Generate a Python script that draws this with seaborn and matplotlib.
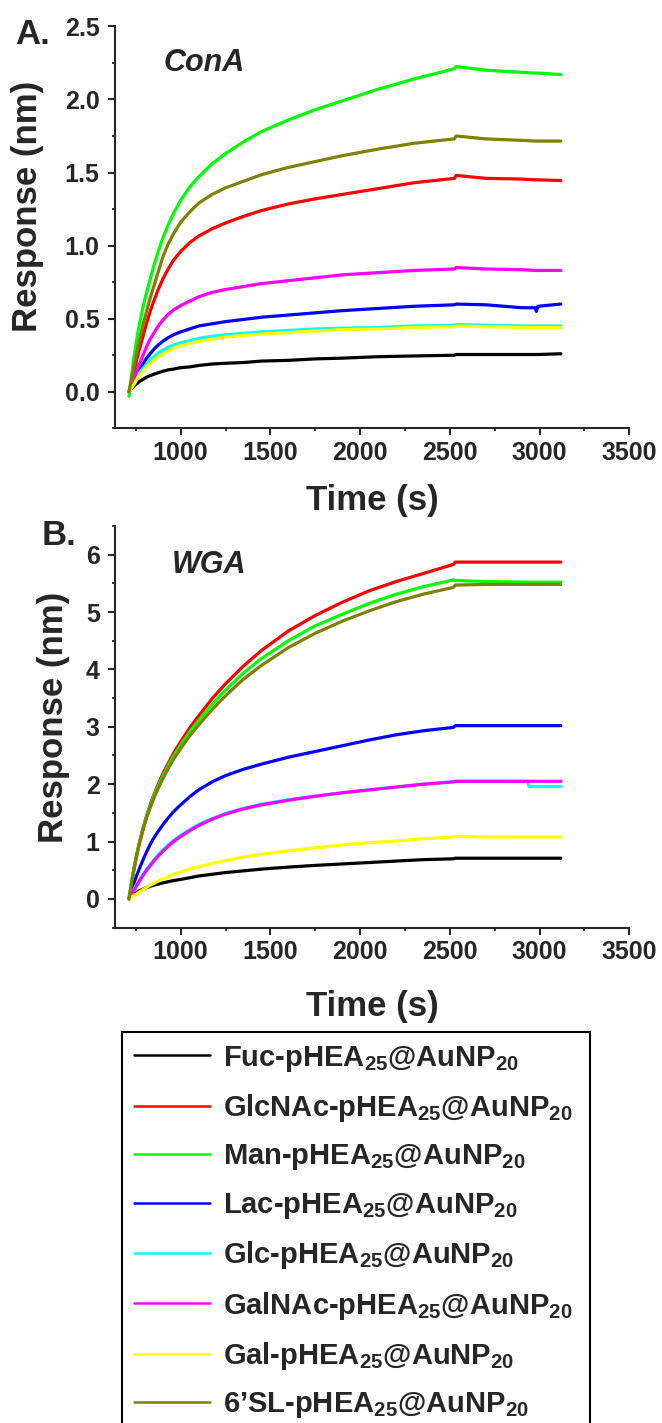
import numpy as np
import pandas as pd
import seaborn as sns
import matplotlib.pyplot as plt
from matplotlib.lines import Line2D
from matplotlib.ticker import MultipleLocator, FormatStrFormatter

# sample names + colours (Origin-style defaults)
names = ['Fuc', 'GlcNAc', 'Man', 'Lac', 'Glc', 'GalNAc', 'Gal', "6\u2019SL"]
colors = ['#000000', '#FF0000', '#00FF00', '#0000FF', '#00FFFF', '#FF00FF', '#FFFF00', '#808000']

# ---- ConA (panel A), response in nm ----
t_conA = [712, 725, 740, 755, 770, 790, 810, 830, 850, 875, 900, 930, 960, 1000, 1050, 1100,
          1175, 1250, 1350, 1450, 1600, 1750, 1900, 2100, 2300, 2525, 2535, 2700, 2900, 2975,
          2982, 2990, 3118]
conA_fuc = [0, 0.02, 0.04, 0.055, 0.07, 0.085, 0.10, 0.11, 0.12, 0.13, 0.14, 0.15, 0.155, 0.165,
            0.17, 0.18, 0.19, 0.195, 0.20, 0.21, 0.215, 0.225, 0.23, 0.24, 0.245, 0.25, 0.255,
            0.255, 0.255, 0.255, 0.255, 0.255, 0.26]
conA_glcnac = [0, 0.06, 0.14, 0.22, 0.29, 0.38, 0.47, 0.55, 0.62, 0.70, 0.77, 0.84, 0.90, 0.96,
               1.02, 1.065, 1.115, 1.155, 1.20, 1.24, 1.285, 1.32, 1.35, 1.39, 1.43, 1.46, 1.48,
               1.46, 1.455, 1.45, 1.45, 1.45, 1.445]
conA_man = [-0.03, 0.10, 0.24, 0.36, 0.46, 0.58, 0.68, 0.77, 0.86, 0.96, 1.05, 1.14, 1.22, 1.31,
            1.40, 1.47, 1.56, 1.63, 1.71, 1.78, 1.86, 1.93, 1.99, 2.07, 2.14, 2.21, 2.225,
            2.20, 2.185, 2.18, 2.18, 2.18, 2.17]
conA_lac = [0, 0.03, 0.07, 0.11, 0.15, 0.19, 0.23, 0.26, 0.29, 0.32, 0.345, 0.37, 0.39, 0.41,
            0.43, 0.45, 0.465, 0.48, 0.495, 0.51, 0.525, 0.54, 0.555, 0.57, 0.585, 0.595, 0.60,
            0.595, 0.575, 0.575, 0.55, 0.585, 0.60]
conA_glc = [0, 0.03, 0.06, 0.10, 0.13, 0.16, 0.19, 0.22, 0.24, 0.265, 0.285, 0.305, 0.32, 0.335,
            0.35, 0.365, 0.38, 0.39, 0.40, 0.41, 0.42, 0.43, 0.435, 0.44, 0.45, 0.455, 0.46,
            0.455, 0.45, 0.45, 0.45, 0.45, 0.45]
conA_galnac = [0, 0.04, 0.09, 0.14, 0.19, 0.25, 0.31, 0.36, 0.40, 0.45, 0.49, 0.53, 0.56, 0.59,
               0.62, 0.65, 0.68, 0.70, 0.72, 0.74, 0.76, 0.78, 0.80, 0.815, 0.83, 0.84, 0.85,
               0.84, 0.835, 0.83, 0.83, 0.83, 0.83]
conA_gal = [0, 0.025, 0.05, 0.085, 0.11, 0.14, 0.17, 0.195, 0.215, 0.24, 0.26, 0.28, 0.30, 0.315,
            0.33, 0.345, 0.36, 0.375, 0.385, 0.395, 0.405, 0.415, 0.425, 0.43, 0.44, 0.445, 0.45,
            0.445, 0.44, 0.44, 0.44, 0.44, 0.44]
conA_sl = [0, 0.08, 0.18, 0.27, 0.35, 0.46, 0.55, 0.64, 0.72, 0.82, 0.92, 1.01, 1.08, 1.16,
           1.23, 1.29, 1.35, 1.395, 1.44, 1.485, 1.535, 1.575, 1.615, 1.66, 1.70, 1.73, 1.75,
           1.73, 1.72, 1.715, 1.715, 1.715, 1.715]

# ---- WGA (panel B) ----
t_wga = [712, 725, 740, 755, 770, 790, 810, 830, 850, 875, 900, 930, 960, 1000, 1050, 1100,
         1175, 1250, 1350, 1450, 1600, 1750, 1900, 2050, 2200, 2350, 2520, 2530, 2700, 2935,
         2940, 3118]
wga_fuc = [0, 0.04, 0.08, 0.11, 0.14, 0.17, 0.20, 0.22, 0.24, 0.26, 0.28, 0.30, 0.32, 0.34,
           0.37, 0.40, 0.43, 0.46, 0.49, 0.52, 0.555, 0.585, 0.61, 0.635, 0.66, 0.685, 0.70,
           0.71, 0.71, 0.71, 0.71, 0.71]
wga_glcnac = [0, 0.26, 0.53, 0.77, 0.98, 1.23, 1.45, 1.64, 1.81, 2.00, 2.18, 2.36, 2.54, 2.74,
              2.98, 3.19, 3.49, 3.75, 4.06, 4.33, 4.67, 4.94, 5.17, 5.37, 5.53, 5.67, 5.83,
              5.87, 5.87, 5.87, 5.87, 5.87]
wga_man = [0, 0.26, 0.53, 0.77, 0.98, 1.22, 1.44, 1.62, 1.79, 1.97, 2.14, 2.32, 2.49, 2.68,
           2.91, 3.11, 3.39, 3.64, 3.94, 4.19, 4.50, 4.76, 4.96, 5.15, 5.31, 5.44, 5.56,
           5.55, 5.53, 5.52, 5.52, 5.52]
wga_lac = [0, 0.13, 0.28, 0.41, 0.53, 0.68, 0.82, 0.95, 1.06, 1.18, 1.29, 1.41, 1.52, 1.64,
           1.78, 1.90, 2.04, 2.15, 2.26, 2.35, 2.47, 2.57, 2.67, 2.77, 2.86, 2.93, 2.99,
           3.02, 3.02, 3.02, 3.02, 3.02]
wga_glc = [0, 0.08, 0.17, 0.25, 0.33, 0.43, 0.52, 0.60, 0.68, 0.77, 0.85, 0.94, 1.02, 1.11,
           1.21, 1.30, 1.40, 1.49, 1.58, 1.65, 1.73, 1.79, 1.85, 1.90, 1.95, 2.00, 2.04,
           2.05, 2.05, 2.05, 1.96, 1.96]
wga_galnac = [0, 0.07, 0.15, 0.23, 0.31, 0.41, 0.50, 0.58, 0.66, 0.75, 0.83, 0.92, 1.00, 1.09,
              1.19, 1.28, 1.39, 1.48, 1.57, 1.64, 1.72, 1.79, 1.85, 1.90, 1.95, 2.00, 2.04,
              2.05, 2.05, 2.05, 2.05, 2.05]
wga_gal = [0, 0.03, 0.06, 0.09, 0.12, 0.16, 0.20, 0.24, 0.27, 0.31, 0.35, 0.39, 0.43, 0.47,
           0.52, 0.56, 0.62, 0.67, 0.73, 0.78, 0.84, 0.89, 0.94, 0.98, 1.01, 1.05, 1.08,
           1.09, 1.08, 1.08, 1.08, 1.08]
wga_sl = [0, 0.25, 0.52, 0.76, 0.96, 1.20, 1.41, 1.59, 1.75, 1.93, 2.09, 2.27, 2.43, 2.62,
          2.84, 3.03, 3.30, 3.54, 3.83, 4.07, 4.38, 4.63, 4.84, 5.02, 5.18, 5.31, 5.43,
          5.47, 5.48, 5.48, 5.48, 5.48]

conA_series = [conA_fuc, conA_glcnac, conA_man, conA_lac, conA_glc, conA_galnac, conA_gal, conA_sl]
wga_series = [wga_fuc, wga_glcnac, wga_man, wga_lac, wga_glc, wga_galnac, wga_gal, wga_sl]


def to_long(t, series):
    frames = []
    for name, vals in zip(names, series):
        frames.append(pd.DataFrame({'Time': t, 'Response': vals, 'Sample': name}))
    return pd.concat(frames, ignore_index=True)


sns.set_style('ticks')
plt.rcParams['font.family'] = ['Liberation Sans', 'DejaVu Sans']
plt.rcParams['font.weight'] = 'bold'
plt.rcParams['mathtext.fontset'] = 'custom'
plt.rcParams['mathtext.rm'] = 'Liberation Sans:bold'
plt.rcParams['mathtext.bf'] = 'Liberation Sans:bold'
plt.rcParams['mathtext.it'] = 'Liberation Sans:bold:italic'
plt.rcParams['mathtext.default'] = 'bf'

fig = plt.figure(figsize=(6.62, 14.23), dpi=100)
axA = fig.add_axes([0.1737, 0.6990, 0.777, 0.2825])
axB = fig.add_axes([0.1737, 0.3481, 0.777, 0.2823])

palette = dict(zip(names, colors))

panels = [
    (axA, to_long(t_conA, conA_series), (-0.25, 2.5), 0.5, 0.25, '%.1f', 'ConA',
     (0.095, 0.889), -0.138, 0.553, -0.139),
    (axB, to_long(t_wga, wga_series), (-0.5, 6.5), 1, 0.5, '%d', 'WGA',
     (0.111, 0.883), -0.0875, 0.524, -0.155),
]

for ax, df, ylim, ymaj, ymin, yfmt, lectin, lpos, ylx, yly, xly in panels:
    sns.lineplot(data=df, x='Time', y='Response', hue='Sample', palette=palette,
                 estimator=None, sort=False, legend=False, lw=2.3, ax=ax)
    ax.set_xlim(634, 3500)
    ax.set_ylim(*ylim)
    ax.xaxis.set_major_locator(MultipleLocator(500))
    ax.xaxis.set_minor_locator(MultipleLocator(250))
    ax.yaxis.set_major_locator(MultipleLocator(ymaj))
    ax.yaxis.set_minor_locator(MultipleLocator(ymin))
    ax.yaxis.set_major_formatter(FormatStrFormatter(yfmt))
    ax.set_xticks([1000, 1500, 2000, 2500, 3000, 3500])
    for side in ['top', 'right']:
        ax.spines[side].set_visible(False)
    for side in ['left', 'bottom']:
        ax.spines[side].set_linewidth(1.5)
    ax.tick_params(which='major', direction='out', length=5, width=1.5, labelsize=18, pad=4)
    ax.tick_params(which='minor', direction='out', length=2.5, width=1.3)
    ax.tick_params(axis='y', which='major', pad=6)
    for lab in ax.get_xticklabels() + ax.get_yticklabels():
        lab.set_fontweight('bold')
    ax.set_xlabel('Time (s)', fontsize=25, fontweight='bold')
    ax.set_ylabel('Response (nm)', fontsize=25, fontweight='bold')
    ax.yaxis.set_label_coords(ylx, yly)
    ax.xaxis.set_label_coords(0.5, xly)
    ax.text(lpos[0], lpos[1], lectin, transform=ax.transAxes, fontsize=22,
            fontweight='bold', fontstyle='italic', va='baseline', ha='left')

fig.text(15 / 662, 1 - 44 / 1423, 'A.', fontsize=25, fontweight='bold', va='baseline', ha='left')
fig.text(42 / 662, 1 - 545 / 1423, 'B.', fontsize=25, fontweight='bold', va='baseline', ha='left')

# legend box under the two panels (runs off the bottom edge like the original)
handles = [Line2D([], [], color=c, lw=1.8) for c in colors]
labels = [f'{n}-pHEA$_{{25}}$@AuNP$_{{20}}$' for n in names]
leg = fig.legend(handles, labels, loc='upper left',
                 bbox_to_anchor=(122 / 662, 1 - 1032 / 1423, 468 / 662, 0),
                 mode='expand', fontsize=21, handlelength=2.6, handletextpad=0.45,
                 borderpad=0.4, labelspacing=0.63, borderaxespad=0,
                 frameon=True, fancybox=False, edgecolor='black', framealpha=1)
leg.get_frame().set_linewidth(1.5)
for txt in leg.get_texts():
    txt.set_fontweight('bold')

fig.savefig('out.png', dpi=100)
